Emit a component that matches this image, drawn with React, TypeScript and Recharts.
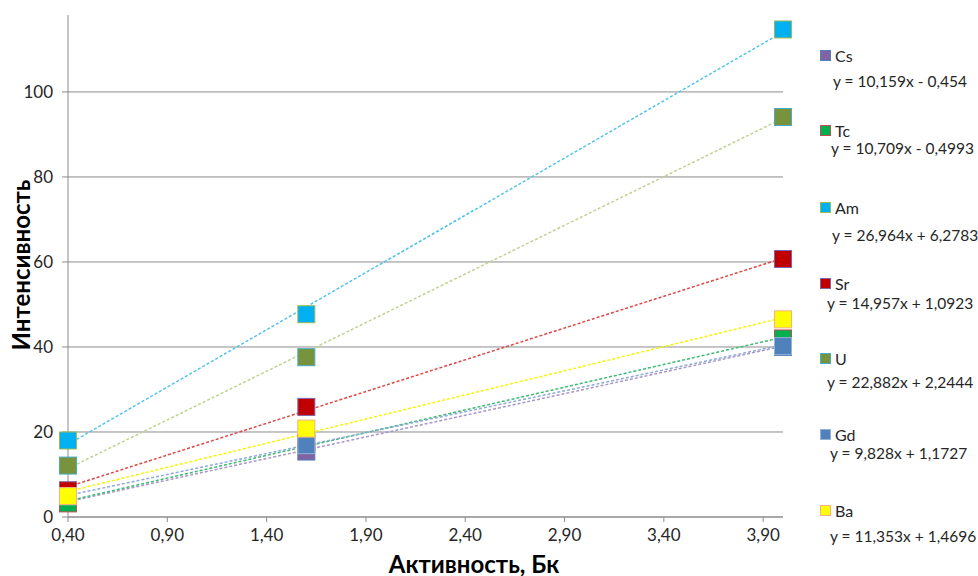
import React from "react";
import {
  ComposedChart,
  Scatter,
  Line,
  XAxis,
  YAxis,
  CartesianGrid,
} from "recharts";

// activity values, Bq
const xValues = [0.4, 1.6, 4.0];

// measured intensity per element
const cs = [3.5, 15.4, 40.0];
const tc = [3.2, 17.5, 42.0];
const am = [18.0, 47.7, 114.7];
const sr = [6.3, 25.9, 60.7];
const u = [12.1, 37.6, 94.1];
const gd = [4.9, 16.9, 40.2];
const ba = [4.9, 20.8, 46.5];

// trendline ends (x = 0.4 and x = 4.0)
const trendX = [0.4, 4.0];
const csTrend = [3.6, 40.2];
const tcTrend = [3.8, 42.3];
const amTrend = [17.1, 114.1];
const srTrend = [7.1, 60.9];
const uTrend = [11.4, 93.8];
const gdTrend = [5.1, 40.5];
const baTrend = [6.0, 46.9];

const names = ["Cs", "Tc", "Am", "Sr", "U", "Gd", "Ba"];
const equations = [
  "y = 10,159x - 0,454",
  "y = 10,709x - 0,4993",
  "y = 26,964x + 6,2783",
  "y = 14,957x + 1,0923",
  "y = 22,882x + 2,2444",
  "y = 9,828x + 1,1727",
  "y = 11,353x + 1,4696",
];

const xTicks = [0.4, 0.9, 1.4, 1.9, 2.4, 2.9, 3.4, 3.9];
const yTicks = [0, 20, 40, 60, 80, 100];

const series = [
  { values: cs, trend: csTrend, fill: "#8064A2", stroke: "#4F81BD", line: "#A897C5" },
  { values: tc, trend: tcTrend, fill: "#00B050", stroke: "#C0504D", line: "#3CBB72" },
  { values: am, trend: amTrend, fill: "#00B0F0", stroke: "#9BBB59", line: "#4FC3EE" },
  { values: sr, trend: srTrend, fill: "#C00000", stroke: "#8064A2", line: "#DC4848" },
  { values: u, trend: uTrend, fill: "#77933C", stroke: "#4BACC6", line: "#BFD38F" },
  { values: gd, trend: gdTrend, fill: "#4F81BD", stroke: "#95B3D7", line: "#8EAAD6" },
  { values: ba, trend: baTrend, fill: "#FFFF00", stroke: "#F4B183", line: "#F5F500" },
];

// legend rows: label y, equation y, equation x
const legendLabelY = [55, 130, 207, 283, 358, 434, 510];
const legendEqY = [81, 148, 235, 303, 382, 453, 536];
const legendEqX = [833, 831, 832, 827, 827, 830, 830];

const FONT = "Lato, 'Open Sans', sans-serif";

const square = (fill: string, stroke: string) => (props: any) => {
  const { cx, cy } = props;
  if (cx == null || cy == null) return <g />;
  return (
    <rect x={cx - 8.5} y={cy - 8.5} width={17} height={17} fill={fill} stroke={stroke} strokeWidth={1} />
  );
};

const fmtX = (v: number) => v.toFixed(2).replace(".", ",");

export default function App() {
  return (
    <div style={{ position: "absolute", left: 0, top: 0, width: 978, height: 576, background: "#fff", fontFamily: FONT }}>
      <ComposedChart
        width={978}
        height={576}
        margin={{ top: 15, right: 195, bottom: 29, left: 0 }}
      >
        <CartesianGrid vertical={false} stroke="#8C8C8C" horizontalValues={yTicks} />
        <XAxis
          type="number"
          dataKey="x"
          domain={[0.4, 4.0]}
          ticks={xTicks}
          tickFormatter={fmtX}
          height={30}
          stroke="#8C8C8C"
          tickSize={5}
          tickMargin={7}
          tick={{ fill: "#262626", fontSize: 17, fontFamily: FONT }}
          interval={0}
        />
        <YAxis
          type="number"
          dataKey="y"
          domain={[0, 118.1]}
          ticks={yTicks}
          width={68}
          stroke="#8C8C8C"
          tickSize={6}
          tickMargin={9}
          tick={{ fill: "#262626", fontSize: 17, fontFamily: FONT }}
          interval={0}
        />
        {series.map((s, i) => (
          <Scatter
            key={"p" + i}
            name={names[i]}
            data={xValues.map((x, j) => ({ x, y: s.values[j] }))}
            dataKey="y"
            shape={square(s.fill, s.stroke)}
            isAnimationActive={false}
          />
        ))}
        {series.map((s, i) => (
          <Line
            key={"t" + i}
            data={trendX.map((x, j) => ({ x, y: s.trend[j] }))}
            dataKey="y"
            type="linear"
            stroke={s.line}
            strokeWidth={1.5}
            strokeDasharray="3 2"
            dot={false}
            activeDot={false}
            isAnimationActive={false}
          />
        ))}
      </ComposedChart>

      {/* axis titles */}
      <div
        style={{
          position: "absolute",
          left: 20,
          top: 265,
          transform: "translate(-50%, -50%) rotate(-90deg)",
          fontWeight: 700,
          fontSize: 24,
          color: "#000",
          whiteSpace: "nowrap",
        }}
      >
        Интенсивность
      </div>
      <div
        style={{
          position: "absolute",
          left: 474,
          top: 563,
          transform: "translate(-50%, -50%)",
          fontWeight: 700,
          fontSize: 24,
          color: "#000",
          whiteSpace: "nowrap",
        }}
      >
        Активность, Бк
      </div>

      {/* legend with trendline equations */}
      {series.map((s, i) => (
        <React.Fragment key={"l" + i}>
          <div
            style={{
              position: "absolute",
              left: 820,
              top: legendLabelY[i] - 5,
              width: 9,
              height: 9,
              background: s.fill,
              border: `1px solid ${s.stroke}`,
            }}
          />
          <div
            style={{
              position: "absolute",
              left: 835,
              top: legendLabelY[i],
              transform: "translateY(-50%)",
              fontSize: 16,
              color: "#262626",
              whiteSpace: "nowrap",
            }}
          >
            {names[i]}
          </div>
          <div
            style={{
              position: "absolute",
              left: legendEqX[i],
              top: legendEqY[i],
              transform: "translateY(-50%)",
              fontSize: 15.5,
              color: "#262626",
              whiteSpace: "nowrap",
            }}
          >
            {equations[i]}
          </div>
        </React.Fragment>
      ))}
    </div>
  );
}
